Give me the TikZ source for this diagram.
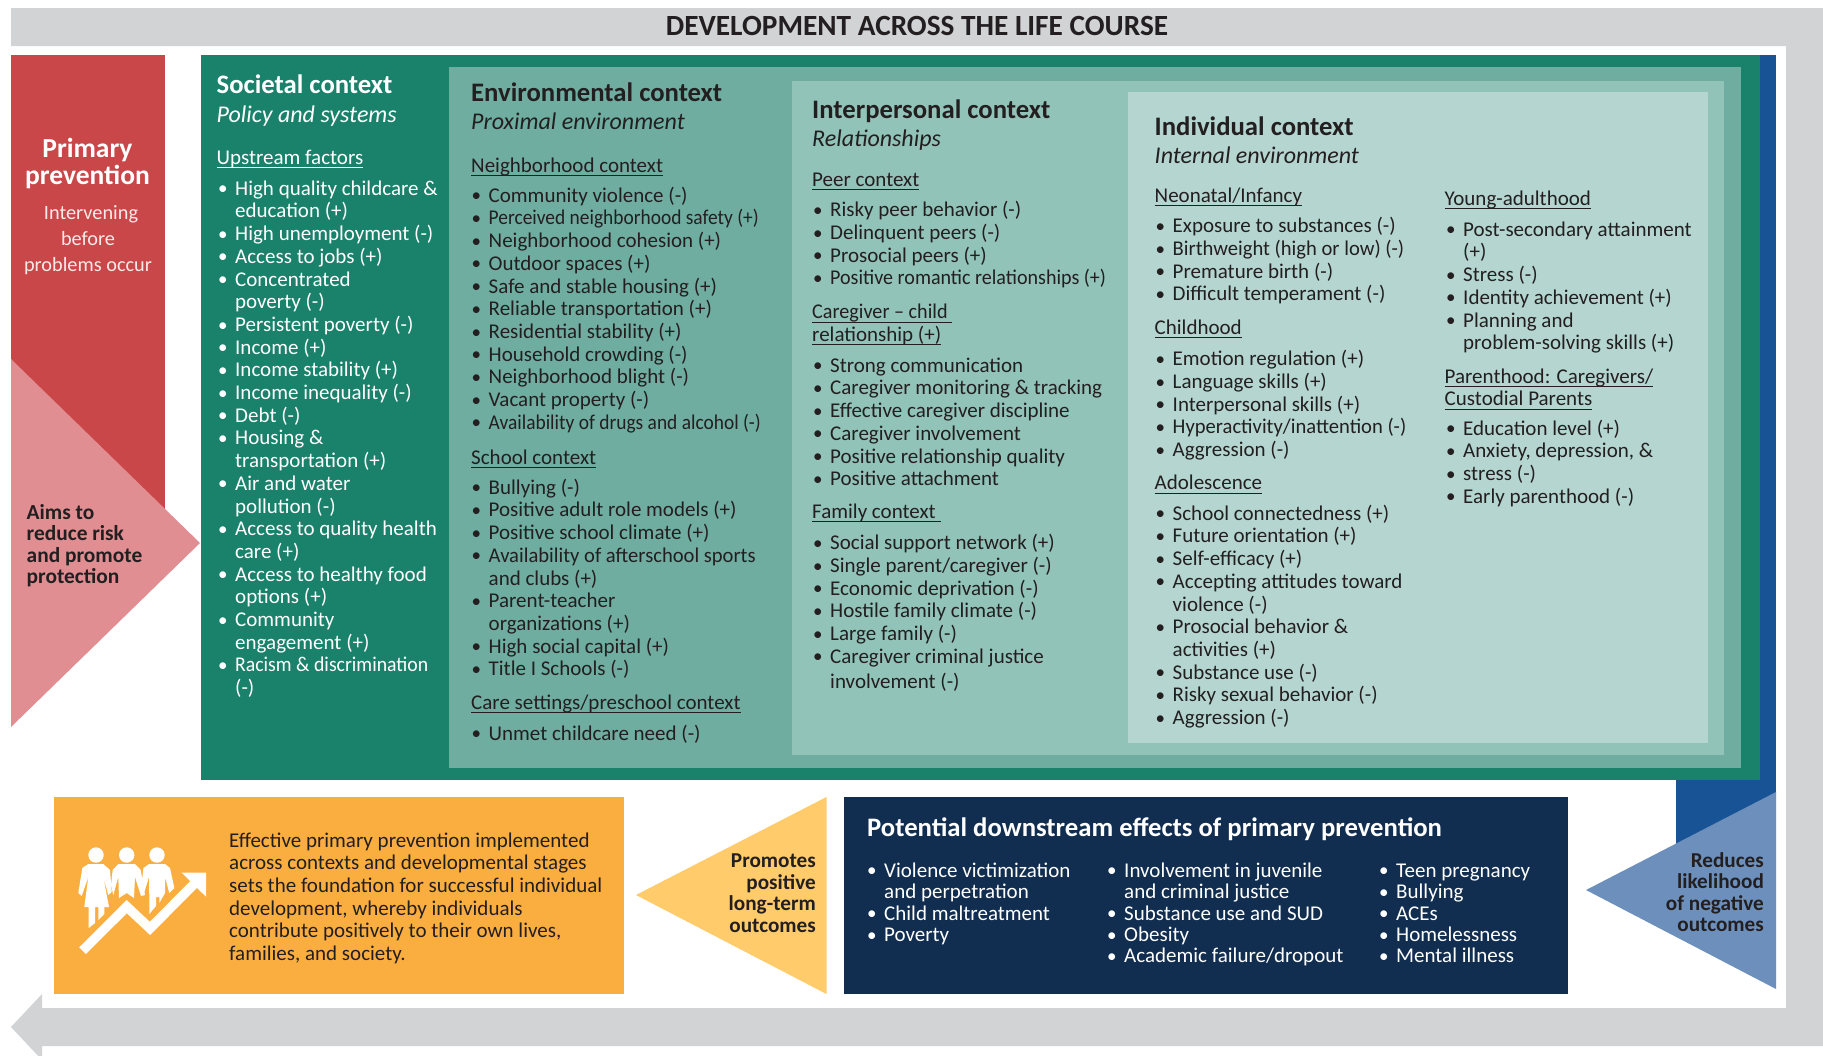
\documentclass[tikz,border=0pt]{standalone}
\usepackage{fontspec}
\usepackage{graphicx}
\setmainfont{Carlito}
\definecolor{greybar}{HTML}{D1D3D4}
\definecolor{redbox}{HTML}{C94748}
\definecolor{pinktri}{HTML}{E08E92}
\definecolor{greenA}{HTML}{1A816B}
\definecolor{greenB}{HTML}{6FADA1}
\definecolor{greenC}{HTML}{92C3B8}
\definecolor{greenD}{HTML}{B5D6D0}
\definecolor{blueA}{HTML}{175395}
\definecolor{blueB}{HTML}{6C90BB}
\definecolor{navy}{HTML}{112E51}
\definecolor{orangebox}{HTML}{FBAE40}
\definecolor{yellowtri}{HTML}{FFCB6B}
\definecolor{inkdark}{HTML}{231F20}
\newcommand\bodysize{21}
\newcommand\bl[1]{\hbox to 18pt{\hspace{0.8pt}{\fontsize{19}{19}\selectfont\raisebox{0.4pt}{•}}\hss}#1}
\newcommand\ct[1]{\hspace*{18pt}#1}
\newcommand\hdul[1]{\setbox0\hbox{#1}\rlap{\rule[-3.6pt]{\wd0}{0.8pt}}\box0}
\newcommand\cond[2]{\scalebox{#1}[1]{#2}}
% \blk[line spacing]{name}{x}{first baseline}{lines}
\newcommand\blk[5][22.7]{\node[txtblock,font=\fontsize{\bodysize}{#1}\selectfont] (#2) at (#3,#4-17) {\rule{0pt}{18pt}#5};}
\newcommand\hdr[4]{\node[txtblock,font=\fontsize{26.7}{30}\selectfont] (#1) at (#2,#3-23) {\rule{0pt}{24pt}\textbf{#4}};}
\newcommand\sub[4]{\node[txtblock,font=\fontsize{24}{28}\selectfont\itshape] (#1) at (#2,#3-21.5) {\rule{0pt}{22pt}#4};}
\tikzset{txtblock/.style={inner sep=0pt,anchor=north west,align=left},
  boldright/.style={inner sep=0pt,anchor=north east,align=right,text=inkdark,font=\fontsize{21.2}{21.4}\selectfont\bfseries},
  person/.style={fill=white,draw=none}}
\begin{document}
\begin{tikzpicture}[x=1pt,y=-1pt]
\useasboundingbox (0,0) rectangle (1823,1055);
\clip (0,0) rectangle (1823,1055);
\fill[white] (0,0) rectangle (1823,1055);
% life course arrow
\fill[greybar] (11,8) -- (1823,8) -- (1823,1046) -- (42,1046) -- (42,1060) -- (11,1027) -- (42,994) -- (42,1008) -- (1786,1008) -- (1786,46) -- (11,46) -- cycle;
\node[inner sep=0pt,anchor=base,font=\fontsize{29.3}{32}\selectfont\bfseries,text=inkdark] (title) at (917,35) {DEVELOPMENT ACROSS THE LIFE COURSE};
% primary prevention
\fill[redbox] (11,55) rectangle (165,530);
\fill[pinktri] (11,359) -- (200,543) -- (11,727) -- cycle;
% nested contexts
\fill[blueA] (1700,55) rectangle (1776,895);
\fill[blueA] (1676,780) rectangle (1776,895);
\fill[greenA] (200.5,55) rectangle (1760,780);
\fill[greenB] (449,67) rectangle (1741,768);
\fill[greenC] (792,80.5) rectangle (1724,755);
\fill[greenD] (1128,92) rectangle (1708,743);
\fill[blueB] (1776,792) -- (1586,890) -- (1776,989) -- cycle;
% bottom boxes
\fill[orangebox] (53.5,797) rectangle (623.5,994);
\fill[yellowtri] (636,895) -- (826.5,797) -- (826.5,994) -- cycle;
\fill[navy] (843.5,797) rectangle (1568,994);
% primary prevention text
\node[inner sep=0pt,anchor=north,align=center,text=white,font=\fontsize{27.5}{27.5}\selectfont\bfseries] (pp) at (87.5,138) {Primary\\prevention};
\node[inner sep=0pt,anchor=north,align=center,text=white!88!redbox,font=\fontsize{20.3}{25.8}\selectfont] (ppsub) at (88,205.5) {\hspace*{6pt}Intervening\\before\\problems occur};
\node[txtblock,text=inkdark,font=\fontsize{21.4}{21.4}\selectfont\bfseries] (aims) at (26.5,504) {Aims to\\reduce risk\\and promote\\protection};
% societal
\begin{scope}[text=white]
\hdr{socH}{216.5}{92}{Societal context}
\sub{socS}{216.5}{122}{Policy and systems}
\blk{socU}{216.5}{163}{\hdul{Upstream factors}}
\blk{socL}{217}{194}{\bl{High quality childcare \&}\\\ct{education (+)}\\\bl{High unemployment (-)}\\\bl{Access to jobs (+)}\\\bl{Concentrated}\\\ct{poverty (-)}\\\bl{Persistent poverty (-)}\\\bl{Income (+)}\\\bl{Income stability (+)}\\\bl{Income inequality (-)}\\\bl{Debt (-)}\\\bl{Housing \&}\\\ct{transportation (+)}\\\bl{Air and water}\\\ct{pollution (-)}\\\bl{Access to quality health}\\\ct{care (+)}\\\bl{Access to healthy food}\\\ct{options (+)}\\\bl{Community}\\\ct{engagement (+)}\\\bl{\cond{0.94}{Racism \& discrimination}}\\\ct{(-)}}
\end{scope}
% environmental
\begin{scope}[text=inkdark]
\hdr{envH}{471}{100}{Environmental context}
\sub{envS}{471}{129}{Proximal environment}
\blk{envU}{471}{171}{\hdul{Neighborhood context}}
\blk{envL}{470.5}{201}{\bl{Community violence (-)}\\\bl{\cond{0.925}{Perceived neighborhood safety (+)}}\\\bl{Neighborhood cohesion (+)}\\\bl{Outdoor spaces (+)}\\\bl{Safe and stable housing (+)}\\\bl{Reliable transportation (+)}\\\bl{Residential stability (+)}\\\bl{Household crowding (-)}\\\bl{Neighborhood blight (-)}\\\bl{Vacant property (-)}\\\bl{\cond{0.925}{Availability of drugs and alcohol (-)}}}
\blk{schU}{471}{463}{\hdul{School context}}
\blk{schL}{470.5}{493}{\bl{Bullying (-)}\\\bl{Positive adult role models (+)}\\\bl{Positive school climate (+)}\\\bl{\cond{0.98}{Availability of afterschool sports}}\\\ct{and clubs (+)}\\\bl{Parent-teacher}\\\ct{organizations (+)}\\\bl{High social capital (+)}\\\bl{Title I Schools (-)}}
\blk{careU}{471}{708}{\hdul{Care settings/preschool context}}
\blk{careL}{470.5}{739}{\bl{Unmet childcare need (-)}}
% interpersonal
\hdr{intH}{812}{117}{Interpersonal context}
\sub{intS}{812}{146}{Relationships}
\blk{peerU}{812}{185}{\hdul{Peer context}}
\blk{peerL}{812}{215.5}{\bl{Risky peer behavior (-)}\\\bl{Delinquent peers (-)}\\\bl{Prosocial peers (+)}\\\bl{\cond{0.955}{Positive romantic relationships (+)}}}
\blk{cgU}{812}{317.5}{\hdul{\cond{0.96}{Caregiver – child }}\\\hdul{relationship (+)}}
\blk{cgL}{812}{371}{\bl{Strong communication}\\\bl{Caregiver monitoring \& tracking}\\\bl{Effective caregiver discipline}\\\bl{Caregiver involvement}\\\bl{Positive relationship quality}\\\bl{Positive attachment}}
\blk{famU}{812}{517}{\hdul{Family context }}
\blk{famL}{812}{548.5}{\bl{Social support network (+)}\\\bl{Single parent/caregiver (-)}\\\bl{Economic deprivation (-)}\\\bl{Hostile family climate (-)}\\\bl{Large family (-)}\\\bl{Caregiver criminal justice}\\[2.8pt]\ct{involvement (-)}}
% individual
\hdr{indH}{1154.5}{134}{Individual context}
\sub{indS}{1154.5}{163}{Internal environment}
\blk{neoU}{1154.5}{201}{\hdul{Neonatal/Infancy}}
\blk{neoL}{1154.5}{231.5}{\bl{Exposure to substances (-)}\\\bl{\cond{0.98}{Birthweight (high or low) (-)}}\\\bl{Premature birth (-)}\\\bl{Difficult temperament (-)}}
\blk{chiU}{1154.5}{333}{\hdul{Childhood}}
\blk{chiL}{1154.5}{364.5}{\bl{Emotion regulation (+)}\\\bl{Language skills (+)}\\\bl{Interpersonal skills (+)}\\\bl{\cond{0.98}{Hyperactivity/inattention (-)}}\\\bl{Aggression (-)}}
\blk{adoU}{1154.5}{488.5}{\hdul{Adolescence}}
\blk{adoL}{1154.5}{519}{\bl{School connectedness (+)}\\\bl{Future orientation (+)}\\\bl{Self-efficacy (+)}\\\bl{Accepting attitudes toward}\\\ct{violence (-)}\\\bl{Prosocial behavior \&}\\\ct{activities (+)}\\\bl{Substance use (-)}\\\bl{Risky sexual behavior (-)}\\\bl{Aggression (-)}}
\blk{yaU}{1444.5}{204}{\hdul{Young-adulthood}}
\blk{yaL}{1445}{235}{\bl{Post-secondary attainment}\\\ct{(+)}\\\bl{Stress (-)}\\\bl{Identity achievement (+)}\\\bl{Planning and}\\\ct{problem-solving skills (+)}}
\blk{parU}{1444.5}{382}{\hdul{Parenthood: Caregivers/}\\\hdul{Custodial Parents}}
\blk{parL}{1445}{434}{\bl{Education level (+)}\\\bl{Anxiety, depression, \&}\\\bl{stress (-)}\\\bl{Early parenthood (-)}}
% orange text
\blk[22.6]{orangeT}{229}{846}{Effective primary prevention implemented\\across contexts and developmental stages\\sets the foundation for successful individual\\development, whereby individuals\\contribute positively to their own lives,\\families, and society.}
\end{scope}
% triangle labels
\node[boldright] (promo) at (816,854) {Promotes\\positive\\long-term\\outcomes};
\node[boldright] (reduce) at (1764,852.5) {Reduces\\likelihood\\of negative\\outcomes};
% downstream
\begin{scope}[text=white]
\node[txtblock,font=\fontsize{26.7}{30}\selectfont\bfseries] (downH) at (867,835-23) {\rule{0pt}{24pt}Potential downstream effects of primary prevention};
\blk[21.4]{d1}{866}{876}{\bl{Violence victimization}\\\ct{and perpetration}\\\bl{Child maltreatment}\\\bl{Poverty}}
\blk[21.4]{d2}{1106}{876}{\bl{Involvement in juvenile}\\\ct{and criminal justice}\\\bl{Substance use and SUD}\\\bl{Obesity}\\\bl{Academic failure/dropout}}
\blk[21.4]{d3}{1378}{876}{\bl{Teen pregnancy}\\\bl{Bullying}\\\bl{ACEs}\\\bl{Homelessness}\\\bl{Mental illness}}
\end{scope}
% icon: three people and a rising arrow
\fill[white] (96,855) circle (7.7);
\fill[white] (126.7,855) circle (7.7);
\fill[white] (157,855) circle (7.7);
\path[person] (88.3,864) -- (103.3,864) -- (110,870) -- (111.7,892) -- (108.3,895) -- (103.3,877) -- (109,907) -- (104.3,907) -- (104.3,914) -- (98.3,920) -- (98.3,907) -- (95,907) -- (95,923) -- (88.7,928) -- (88.7,907) -- (84.3,907) -- (88.3,877) -- (81.7,896) -- (78.3,893) -- (82.3,868) -- cycle;
\path[person] (118.3,864) -- (135,864) -- (140.7,870) -- (145,895) -- (141,896) -- (135,877) -- (134,898) -- (126.7,893) -- (119,898) -- (118.3,877) -- (113.3,895) -- (111,885) -- (112.7,870) -- cycle;
\path[person] (149,864) -- (165,864) -- (170,868) -- (174.3,888) -- (169.3,893) -- (165,877) -- (165,893) -- (159.3,903) -- (159.3,897) -- (156,897) -- (156,906) -- (149.3,914) -- (149.3,897) -- (149,877) -- (144,893) -- (142,880) -- (143.5,868) -- cycle;
\draw[white,line width=9.5pt,line join=miter] (82.5,950.7) -- (126.7,906.6) -- (150,928.4) -- (198,880);
\fill[white] (181.7,872.7) -- (206,872.7) -- (206,896.7) -- cycle;
\end{tikzpicture}
\end{document}
